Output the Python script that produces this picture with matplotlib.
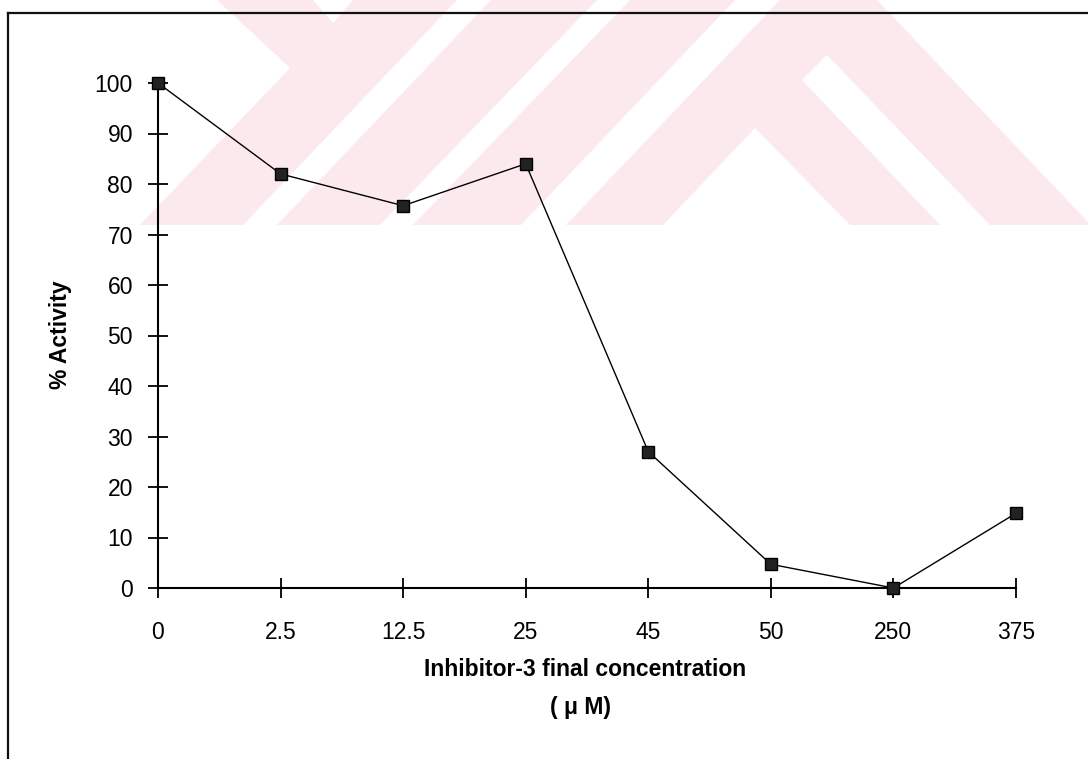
import matplotlib
matplotlib.use("Agg")
import matplotlib.pyplot as plt
from matplotlib.patches import Polygon
from matplotlib.lines import Line2D

plt.rcParams['font.family'] = ['Liberation Sans', 'DejaVu Sans']

# data
conc_labels = ['0', '2.5', '12.5', '25', '45', '50', '250', '375']
activity = [100, 82, 75.7, 84, 27, 4.7, 0, 14.8]
y_ticks = [0, 10, 20, 30, 40, 50, 60, 70, 80, 90, 100]

W, H = 1088, 759
fig = plt.figure(figsize=(W / 100, H / 100), dpi=100)


def px(pts):
    # pixel coords (y down) -> figure fraction
    return [(x / W, 1 - y / H) for x, y in pts]


# faint watermark in the scan
pink = '#fce9ed'
fig.patches.append(Polygon(px([(0, 0), (W, 0), (W, 225), (0, 225)]),
                           closed=True, transform=fig.transFigure,
                           facecolor=pink, edgecolor='none', zorder=-3))
white_parts = [
    [(0, 0), (217, 0), (290, 68), (140, 225), (0, 225)],
    [(313, 0), (353, 0), (333, 23)],
    [(243, 225), (277, 225), (491, 0), (457, 0)],
    [(380, 225), (413, 225), (630, 0), (597, 0)],
    [(521, 225), (566, 225), (780, 0), (735, 0)],
    [(663, 225), (755, 128), (850, 225)],
    [(802, 80), (827, 55), (990, 225), (940, 225)],
    [(877, 0), (W, 0), (W, 222)],
]
for pts in white_parts:
    fig.patches.append(Polygon(px(pts), closed=True, transform=fig.transFigure,
                               facecolor='white', edgecolor='none', zorder=-2))

# frame of the scanned figure (left and top edges)
fig.lines.append(Line2D([8 / W, 8 / W], [0, 1 - 13 / H], transform=fig.transFigure,
                        color='#111111', lw=1.6, zorder=5))
fig.lines.append(Line2D([8 / W, 1], [1 - 13 / H, 1 - 13 / H], transform=fig.transFigure,
                        color='#111111', lw=1.6, zorder=5))

ax = fig.add_axes([158 / W, 1 - 588 / H, (1016 - 158) / W, (588 - 83) / H])
ax.patch.set_alpha(0)

x = list(range(len(conc_labels)))
ax.plot(x, activity, color='black', lw=1.0, marker='s', markersize=8.5,
        markerfacecolor='#222222', markeredgecolor='black', clip_on=False, zorder=3)

ax.set_xlim(0, len(conc_labels) - 1)
ax.set_ylim(0, 100)
ax.set_xticks(x)
ax.set_xticklabels(conc_labels)
ax.set_yticks(y_ticks)

ax.spines['right'].set_visible(False)
ax.spines['top'].set_visible(False)
ax.spines['left'].set_linewidth(1.5)
ax.spines['bottom'].set_linewidth(1.5)

ax.tick_params(axis='both', direction='inout', length=14, width=1.3, labelsize=16.5)
ax.tick_params(axis='y', pad=11)
ax.tick_params(axis='x', pad=17)

ax.set_ylabel('% Activity', fontsize=16.5, fontweight='bold')
ax.yaxis.set_label_coords(-0.100, 0.501)

ax.text(0.4977, -0.162, 'Inhibitor-3 final concentration', transform=ax.transAxes,
        ha='center', va='center', fontsize=16.5, fontweight='bold')
ax.text(0.493, -0.236, '( \u03bc M)', transform=ax.transAxes,
        ha='center', va='center', fontsize=16.5, fontweight='bold')

plt.savefig('out.png', dpi=100)
